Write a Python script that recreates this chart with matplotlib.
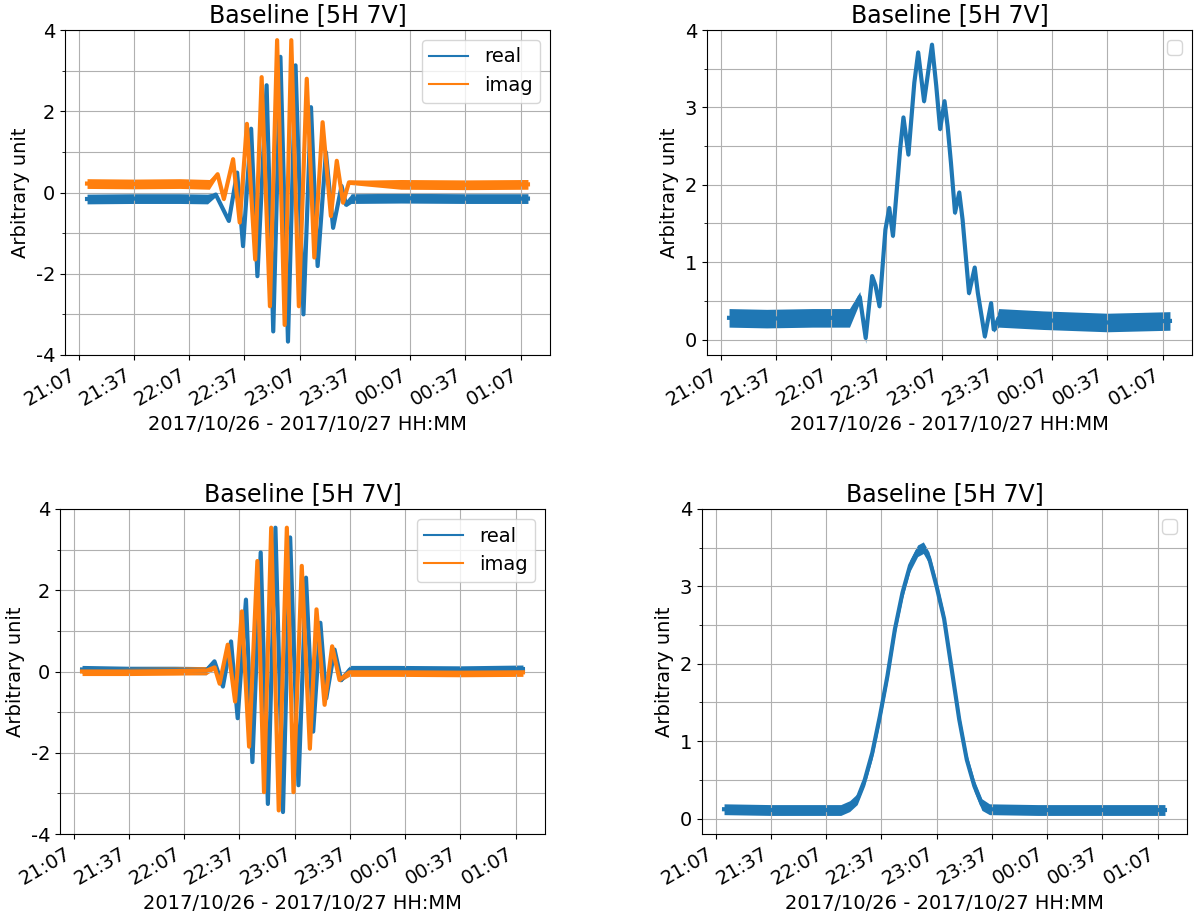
import numpy as np
import pandas as pd
import matplotlib
matplotlib.use('Agg')
import matplotlib.pyplot as plt
import matplotlib.dates as mdates
from matplotlib.ticker import MultipleLocator

plt.rcParams['axes.unicode_minus'] = False
plt.rcParams['font.size'] = 14

t0 = pd.Timestamp('2017-10-26 21:07')
tick_min = [0, 30, 60, 90, 120, 150, 180, 210, 240]

# all times are minutes after 21:07
# top left: real / imag
t_re_1 = [4.6, 30, 55, 70, 74.5, 81.6, 86.1, 89.3, 93.7, 97.1, 102.1, 105.7, 109.6, 113.7,
          117.8, 122.1, 126.2, 129.8, 134.3, 138.2, 142.8, 145.2, 148, 175, 210, 244]
re_1 = [-0.16, -0.15, -0.15, -0.16, -0.05, -0.7, 0.49, -1.32, 1.57, -2.06, 2.64, -3.42, 3.34, -3.67,
        3.13, -3.0, 2.1, -1.81, 0.99, -0.87, 0.16, -0.3, -0.15, -0.14, -0.15, -0.15]
nz_re_1 = [0.12] * 4 + [0.05] + [0.035] * 16 + [0.05] + [0.12] * 4

t_im_1 = [4.6, 30, 55, 71, 75.5, 78.9, 83.9, 87.5, 91.4, 95.9, 99.4, 103.9, 107.8, 111.9,
          115.5, 119.6, 123.9, 128.0, 132.5, 137.0, 140.2, 143.6, 146.8, 175, 210, 244]
im_1 = [0.22, 0.21, 0.22, 0.2, 0.45, -0.16, 0.82, -0.74, 1.69, -1.65, 2.84, -2.8, 3.75, -3.26,
        3.75, -2.8, 2.8, -1.6, 1.73, -0.58, 0.78, -0.25, 0.25, 0.2, 0.19, 0.2]
nz_im_1 = [0.12] * 4 + [0.05] * 2 + [0.035] * 15 + [0.05] * 2 + [0.12] * 3

# top right: amplitude
t_amp_1 = [4.6, 25, 50, 70, 75.6, 78.8, 82.3, 84.1, 86.3, 89.5, 91.6, 93.6, 97.5, 99.3, 102.0,
           105.2, 107.3, 110.5, 114.8, 117.1, 119.2, 121.6, 123.3, 125.1, 127.3, 129.6, 131.4,
           134.9, 138.0, 139.7, 143.5, 146.9, 148.3, 151, 175, 210, 244]
amp_1 = [0.28, 0.27, 0.28, 0.28, 0.55, 0.02, 0.82, 0.7, 0.43, 1.42, 1.70, 1.34, 2.46, 2.87, 2.39,
         3.32, 3.71, 3.08, 3.81, 3.28, 2.72, 3.08, 2.75, 2.28, 1.64, 1.9, 1.55,
         0.6, 0.93, 0.6, 0.04, 0.47, 0.13, 0.28, 0.25, 0.22, 0.24]
nz_amp_1 = [0.12] * 4 + [0.07] * 2 + [0.035] * 27 + [0.12] * 4

# bottom left: real / imag
t_re_2 = [4.6, 30, 55, 72, 76.5, 81.1, 85.5, 89.1, 93.6, 97.1, 101.6, 105.5, 109.6, 113.7,
          117.6, 122.1, 126.2, 130.1, 134.0, 137.2, 141.7, 145.3, 150, 175, 210, 244]
re_2 = [0.05, 0.03, 0.03, 0.02, 0.25, -0.37, 0.74, -1.15, 1.77, -2.23, 2.93, -3.26, 3.54, -3.46,
        3.30, -2.8, 2.31, -1.48, 1.2, -0.66, 0.54, -0.21, 0.05, 0.05, 0.04, 0.06]
nz_re_2 = [0.1] * 4 + [0.05] + [0.035] * 16 + [0.05] + [0.1] * 4

t_im_2 = [4.6, 30, 55, 72, 76.6, 79.3, 83.7, 87.7, 91.4, 95.3, 99.8, 103.4, 107.3, 111.4,
          115.8, 119.4, 123.9, 128.3, 131.9, 136.3, 140.4, 144.4, 149.7, 175, 210, 244]
im_2 = [0.0, 0.0, 0.01, 0.02, 0.1, -0.3, 0.66, -0.74, 1.48, -1.85, 2.72, -2.97, 3.54, -3.42,
        3.54, -2.97, 2.6, -1.9, 1.53, -0.82, 0.62, -0.21, -0.02, -0.02, -0.03, -0.02]
nz_im_2 = [0.1] * 4 + [0.05] * 2 + [0.035] * 15 + [0.05] + [0.1] * 4

# bottom right: amplitude
t_amp_2 = [4.6, 30, 55, 68, 72.8, 76.9, 81.0, 85.1, 89.2, 93.3, 97.4, 101.5, 105.6, 109.7,
           112.8, 115.9, 120.0, 124.1, 128.2, 132.3, 136.4, 140.5, 144.6, 148.7, 175, 210, 244]
amp_2 = [0.12, 0.11, 0.11, 0.11, 0.16, 0.25, 0.5, 0.85, 1.32, 1.84, 2.45, 2.92, 3.27, 3.46,
         3.5, 3.37, 3.0, 2.58, 1.93, 1.28, 0.76, 0.42, 0.18, 0.12, 0.11, 0.11, 0.11]
nz_amp_2 = [0.07] * 4 + [0.07] * 2 + [0.075] * 17 + [0.07] * 4


def to_time(m):
    return t0 + pd.to_timedelta(np.asarray(m, dtype=float), unit='min')


def trace(ax, m, v, nz, color, label=None):
    t = to_time(m)
    v = np.asarray(v)
    nz = np.asarray(nz)
    ax.fill_between(t, v - nz, v + nz, color=color, lw=0)
    ax.plot(t, v, color=color, lw=3, label=label)


def style(ax, major, minor):
    ax.set_title('Baseline [5H 7V]', fontsize=17)
    ax.set_xlabel('2017/10/26 - 2017/10/27 HH:MM')
    ax.set_ylabel('Arbitrary unit')
    ax.set_xticks(to_time(tick_min))
    ax.xaxis.set_major_formatter(mdates.DateFormatter('%H:%M'))
    ax.yaxis.set_major_locator(MultipleLocator(major))
    ax.yaxis.set_minor_locator(MultipleLocator(minor))
    ax.grid(True, which='both')
    plt.setp(ax.get_xticklabels(), rotation=30, ha='right')


fig = plt.figure(figsize=(12, 9.15), dpi=100)
ax1 = fig.add_axes([65 / 1200, 1 - 355 / 915, 485 / 1200, 325 / 915])
ax2 = fig.add_axes([707 / 1200, 1 - 355 / 915, 485 / 1200, 325 / 915])
ax3 = fig.add_axes([60 / 1200, 1 - 834 / 915, 485 / 1200, 325 / 915])
ax4 = fig.add_axes([702 / 1200, 1 - 834 / 915, 485 / 1200, 325 / 915])

trace(ax1, t_re_1, re_1, nz_re_1, 'C0', 'real')
trace(ax1, t_im_1, im_1, nz_im_1, 'C1', 'imag')
trace(ax2, t_amp_1, amp_1, nz_amp_1, 'C0')
trace(ax3, t_re_2, re_2, nz_re_2, 'C0', 'real')
trace(ax3, t_im_2, im_2, nz_im_2, 'C1', 'imag')
trace(ax4, t_amp_2, amp_2, nz_amp_2, 'C0')

for ax in (ax1, ax3):
    style(ax, 2, 1)
    ax.set_ylim(-4, 4)
    leg = ax.legend(loc='upper right')
    for ln in leg.get_lines():
        ln.set_linewidth(1.5)

for ax in (ax2, ax4):
    style(ax, 1, 0.5)
    ax.set_ylim(-0.2, 4)
    ax.legend(handles=[], loc='upper right')

fig.savefig('out.png', dpi=100)
